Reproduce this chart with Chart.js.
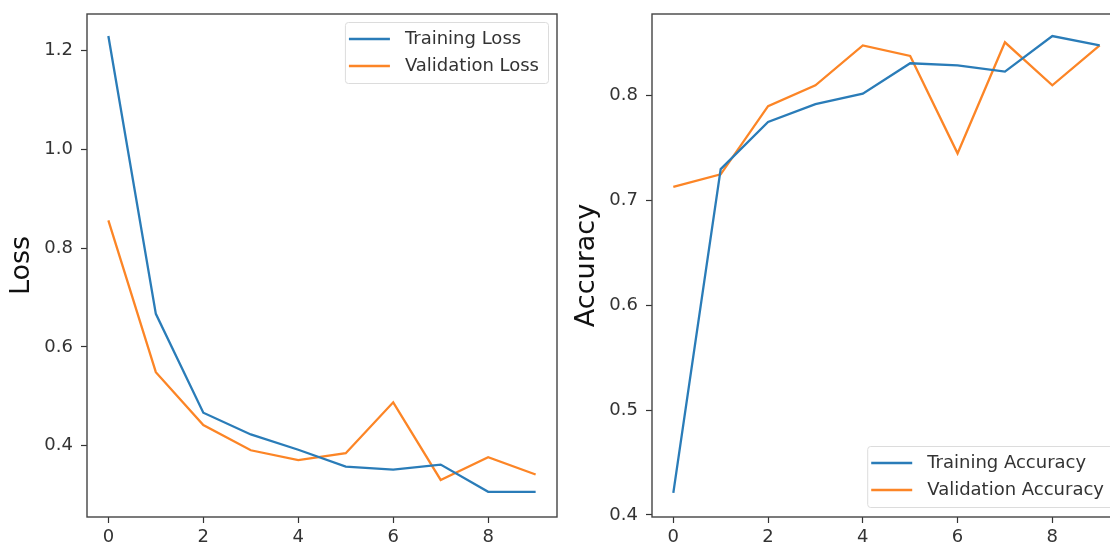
<!DOCTYPE html>
<html lang="en">
<head>
  <meta charset="UTF-8" />
  <title>Loss / Accuracy</title>
  <script src="https://cdn.jsdelivr.net/npm/chart.js"></script>
  <style>
    html, body {
      margin: 0;
      padding: 0;
      width: 1110px;
      height: 543px;
      overflow: hidden;
      background: #ffffff;
    }
    .panel {
      position: absolute;
      top: 0;
    }
    #panelLoss { left: 0; }
    #panelAcc { left: 565px; }
  </style>
</head>
<body>

  <div id="panelLoss" class="panel"><canvas id="lossChart" width="565" height="543"></canvas></div>
  <div id="panelAcc" class="panel"><canvas id="accChart" width="570" height="543"></canvas></div>

  <script>
    // datos
    const epochs = [0, 1, 2, 3, 4, 5, 6, 7, 8, 9];
    const trainLoss = [1.229, 0.667, 0.467, 0.423, 0.392, 0.358, 0.352, 0.362, 0.307, 0.307];
    const valLoss = [0.856, 0.549, 0.442, 0.391, 0.371, 0.385, 0.488, 0.331, 0.377, 0.342];
    const trainAcc = [0.421, 0.730, 0.775, 0.792, 0.802, 0.831, 0.829, 0.823, 0.857, 0.848];
    const valAcc = [0.713, 0.725, 0.790, 0.810, 0.848, 0.838, 0.745, 0.851, 0.810, 0.848];
    const xTicks = [0, 2, 4, 6, 8];
    const lossTicks = [0.4, 0.6, 0.8, 1.0, 1.2];
    const accTicks = [0.4, 0.5, 0.6, 0.7, 0.8];

    const BLUE = '#2a7cb8';
    const ORANGE = '#fc8526';
    const INK = '#333333';
    const FONT = 'DejaVu Sans';

    function toPoints(values) {
      return epochs.map((e, i) => ({ x: e, y: values[i] }));
    }

    function fixedTicks(list) {
      return function (scale) {
        scale.ticks = list.map(v => ({ value: v }));
      };
    }

    // marco completo alrededor del area del grafico
    const framePlugin = {
      id: 'frame',
      afterDatasetsDraw(chart) {
        const a = chart.chartArea;
        const ctx = chart.ctx;
        ctx.save();
        ctx.strokeStyle = '#444';
        ctx.lineWidth = 1.4;
        ctx.strokeRect(a.left, a.top, a.right - a.left, a.bottom - a.top);
        ctx.restore();
      }
    };

    // leyenda estilo matplotlib dentro del area
    const boxLegendPlugin = {
      id: 'boxLegend',
      afterDraw(chart, args, opts) {
        const a = chart.chartArea;
        const ctx = chart.ctx;
        const sets = chart.data.datasets;
        ctx.save();
        ctx.font = '18px "' + FONT + '"';
        let textW = 0;
        sets.forEach(d => { textW = Math.max(textW, ctx.measureText(d.label).width); });
        const padL = 4, handle = 41, gap = 15, padR = 9, rowH = 27, padV = 17;
        const w = padL + handle + gap + textW + padR;
        const h = padV * 2 + rowH * (sets.length - 1);
        const x = a.right - opts.offsetX - w;
        const y = opts.corner === 'bottom' ? a.bottom - opts.offsetY - h : a.top + opts.offsetY;

        ctx.fillStyle = 'rgba(255,255,255,0.85)';
        ctx.strokeStyle = '#dcdcdc';
        ctx.lineWidth = 1;
        ctx.beginPath();
        ctx.roundRect(x + 0.5, y + 0.5, w, h, 3);
        ctx.fill();
        ctx.stroke();

        sets.forEach((d, i) => {
          const cy = y + padV + i * rowH;
          ctx.strokeStyle = d.borderColor;
          ctx.lineWidth = 2.3;
          ctx.beginPath();
          ctx.moveTo(x + padL, cy);
          ctx.lineTo(x + padL + handle, cy);
          ctx.stroke();
          ctx.fillStyle = INK;
          ctx.textBaseline = 'middle';
          ctx.textAlign = 'left';
          ctx.fillText(d.label, x + padL + handle + gap, cy);
        });
        ctx.restore();
      }
    };

    function buildChart(canvasId, series, yMin, yMax, yTickList, yTitle, legendOpts, rightPad) {
      const ctx = document.getElementById(canvasId).getContext('2d');
      return new Chart(ctx, {
        type: 'line',
        data: {
          datasets: series.map(s => ({
            label: s.label,
            data: toPoints(s.values),
            borderColor: s.color,
            backgroundColor: s.color,
            borderWidth: 2.3,
            pointRadius: 0,
            tension: 0,
            fill: false
          }))
        },
        options: {
          responsive: false,
          animation: false,
          layout: { padding: { top: 14, right: rightPad, left: 0, bottom: 0 } },
          plugins: {
            legend: { display: false },
            tooltip: { enabled: false },
            boxLegend: legendOpts
          },
          scales: {
            x: {
              type: 'linear',
              min: -0.45,
              max: 9.45,
              afterBuildTicks: fixedTicks(xTicks),
              afterFit: s => { s.height = 26; s.paddingLeft = 0; s.paddingRight = 0; },
              grid: { drawOnChartArea: false, drawTicks: true, tickLength: 6, tickColor: INK, tickWidth: 1.2 },
              border: { display: false },
              ticks: {
                autoSkip: false,
                maxRotation: 0,
                padding: 4,
                color: INK,
                font: { family: FONT, size: 18 },
                callback: v => String(v)
              }
            },
            y: {
              min: yMin,
              max: yMax,
              afterBuildTicks: fixedTicks(yTickList),
              afterFit: s => { s.width = 87; s.paddingTop = 0; s.paddingBottom = 0; },
              grid: { drawOnChartArea: false, drawTicks: true, tickLength: 6, tickColor: INK, tickWidth: 1.2 },
              border: { display: false },
              title: {
                display: true,
                text: yTitle,
                color: '#111',
                font: { family: FONT, size: 27 },
                padding: { top: 6, bottom: 0 }
              },
              ticks: {
                autoSkip: false,
                padding: 8,
                color: INK,
                font: { family: FONT, size: 18 },
                callback: v => v.toFixed(1)
              }
            }
          }
        },
        plugins: [framePlugin, boxLegendPlugin]
      });
    }

    buildChart('lossChart', [
      { label: 'Training Loss', values: trainLoss, color: BLUE },
      { label: 'Validation Loss', values: valLoss, color: ORANGE }
    ], 0.256, 1.2735, lossTicks, 'Loss', { corner: 'top', offsetX: 9, offsetY: 8 }, 8);

    buildChart('accChart', [
      { label: 'Training Accuracy', values: trainAcc, color: BLUE },
      { label: 'Validation Accuracy', values: valAcc, color: ORANGE }
    ], 0.398, 0.878, accTicks, 'Accuracy', { corner: 'bottom', offsetX: 8, offsetY: 10 }, 14);
  </script>

</body>
</html>
